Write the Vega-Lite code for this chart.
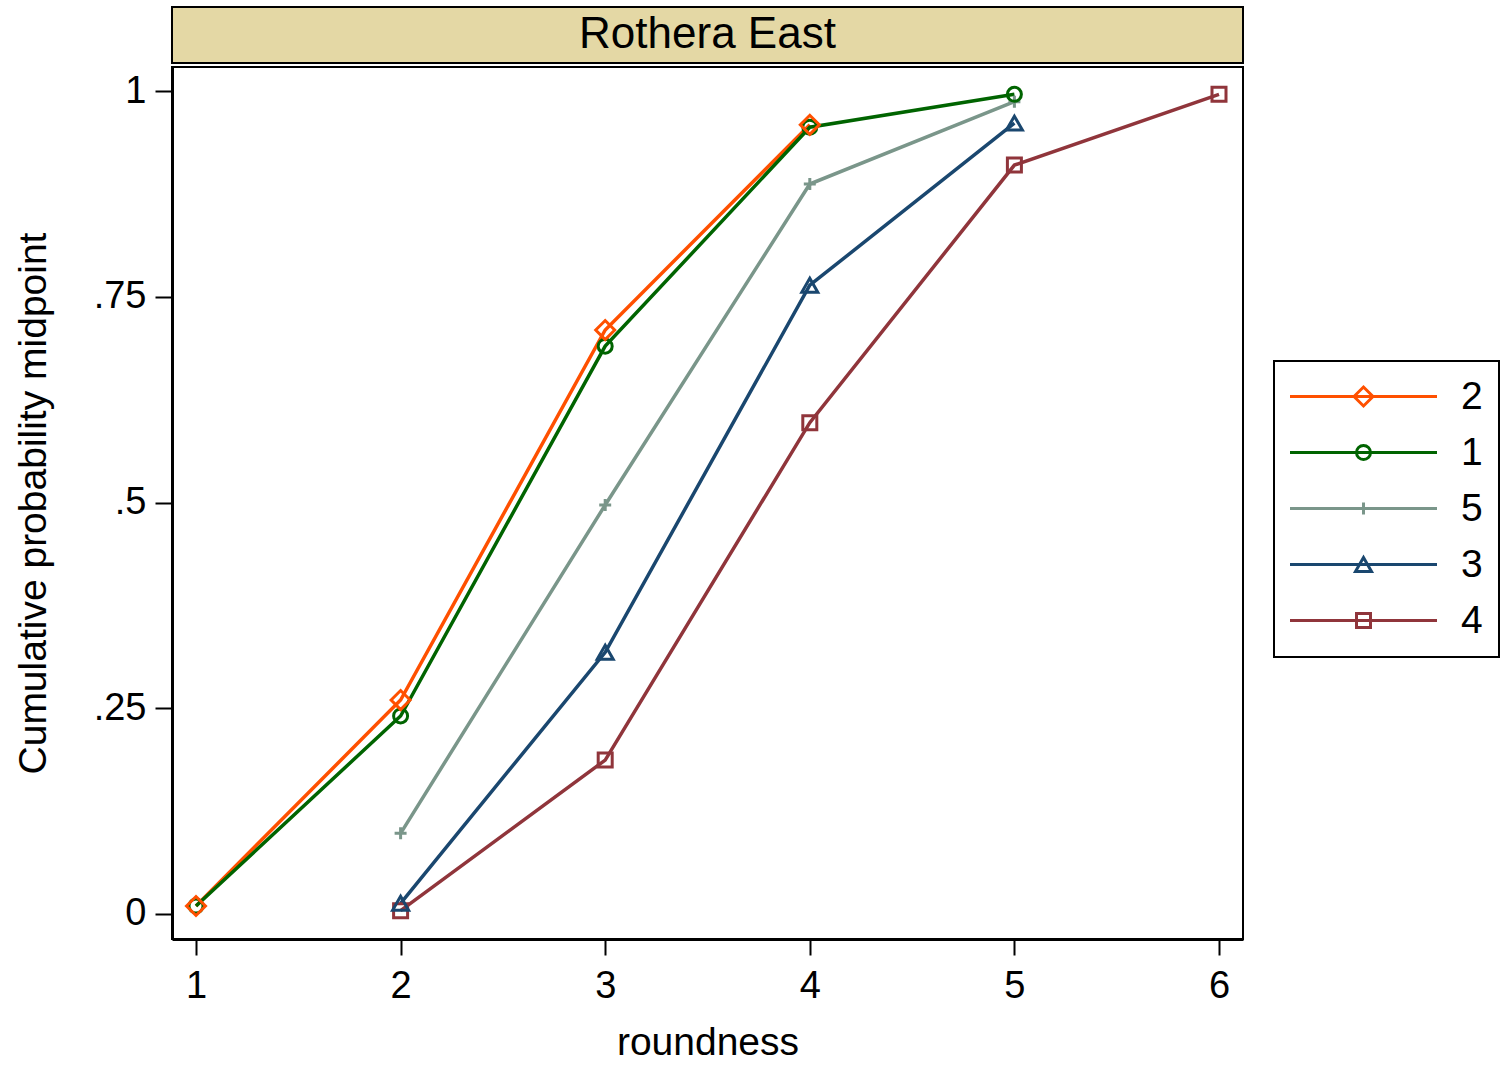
{
  "$schema": "https://vega.github.io/schema/vega-lite/v6.json",
  "padding": {"left": 13, "top": 6, "right": 0, "bottom": 0},
  "background": "white",
  "spacing": 2,
  "config": {
    "font": "Liberation Sans",
    "axis": {
      "grid": false,
      "domainColor": "black",
      "domainWidth": 3,
      "tickColor": "black",
      "tickWidth": 2,
      "labelColor": "black",
      "titleColor": "black",
      "labelFont": "Liberation Sans",
      "titleFont": "Liberation Sans",
      "titleFontWeight": "normal"
    }
  },
  "vconcat": [
    {
      "width": 1071,
      "height": 56,
      "view": {"fill": "#e4d8a5", "stroke": "black", "strokeWidth": 2},
      "data": {"values": [{"strip": "Rothera East"}]},
      "mark": {"type": "text", "fontSize": 44, "font": "Liberation Sans", "color": "black", "baseline": "middle", "align": "center"},
      "encoding": {"text": {"field": "strip", "type": "nominal"}}
    },
    {
      "width": 1071,
      "height": 872,
      "view": {"stroke": "black", "strokeWidth": 2, "fill": "white"},
      "data": {
        "values": [
          {"series": "2", "roundness": 1, "p": 0.0097},
          {"series": "2", "roundness": 2, "p": 0.26},
          {"series": "2", "roundness": 3, "p": 0.7096},
          {"series": "2", "roundness": 4, "p": 0.959},
          {"series": "1", "roundness": 1, "p": 0.0097},
          {"series": "1", "roundness": 2, "p": 0.2406},
          {"series": "1", "roundness": 3, "p": 0.69},
          {"series": "1", "roundness": 4, "p": 0.956},
          {"series": "1", "roundness": 5, "p": 0.996},
          {"series": "5", "roundness": 2, "p": 0.098},
          {"series": "5", "roundness": 3, "p": 0.497},
          {"series": "5", "roundness": 4, "p": 0.887},
          {"series": "5", "roundness": 5, "p": 0.987},
          {"series": "3", "roundness": 2, "p": 0.013},
          {"series": "3", "roundness": 3, "p": 0.318},
          {"series": "3", "roundness": 4, "p": 0.764},
          {"series": "3", "roundness": 5, "p": 0.961},
          {"series": "4", "roundness": 2, "p": 0.004},
          {"series": "4", "roundness": 3, "p": 0.187},
          {"series": "4", "roundness": 4, "p": 0.597},
          {"series": "4", "roundness": 5, "p": 0.91},
          {"series": "4", "roundness": 6, "p": 0.996}
        ]
      },
      "encoding": {
        "x": {
          "field": "roundness",
          "type": "quantitative",
          "scale": {"domain": [0.8827, 6.1173], "nice": false, "zero": false},
          "axis": {
            "values": [1, 2, 3, 4, 5, 6],
            "format": "d",
            "title": "roundness",
            "tickSize": 16,
            "labelFontSize": 38,
            "titleFontSize": 39,
            "labelPadding": 12,
            "titlePadding": 18
          }
        },
        "y": {
          "field": "p",
          "type": "quantitative",
          "scale": {"domain": [-0.0304, 1.0292], "nice": false, "zero": false},
          "axis": {
            "values": [0, 0.25, 0.5, 0.75, 1],
            "labelExpr": "replace(format(datum.value, '~g'), /^0\\./, '.')",
            "title": "Cumulative probability midpoint",
            "tickSize": 17,
            "labelFontSize": 38,
            "titleFontSize": 39,
            "labelPadding": 9,
            "titlePadding": 40
          }
        }
      },
      "layer": [
        {
          "mark": {"type": "line", "strokeWidth": 3.5},
          "encoding": {
            "color": {
              "field": "series",
              "type": "nominal",
              "scale": {
                "domain": ["2", "1", "5", "3", "4"],
                "range": ["#ff5000", "#006400", "#7a968a", "#1a476f", "#90353b"]
              },
              "legend": {
                "title": null,
                "orient": "none",
                "legendX": 1102,
                "legendY": 354,
                "direction": "vertical",
                "strokeColor": "black",
                "fillColor": "white",
                "padding": 16,
                "rowPadding": 16,
                "symbolSize": 400,
                "symbolOffset": 54,
                "symbolStrokeWidth": 3,
                "symbolFillColor": "transparent",
                "symbolType": {"expr": "datum.value === '2' ? 'M-7.35,0H7.35M-0.95,0L0,-0.95L0.95,0L0,0.95Z' : datum.value === '1' ? 'M-7.35,0H7.35M0.7,0A0.7,0.7,0,1,1,-0.7,0A0.7,0.7,0,1,1,0.7,0Z' : datum.value === '5' ? 'M-7.35,0H7.35M0,-0.6V0.6' : datum.value === '3' ? 'M-7.35,0H7.35M0,-0.69L0.8,0.69L-0.8,0.69Z' : 'M-7.35,0H7.35M-0.7,-0.7H0.7V0.7H-0.7Z'"},
                "labelFontSize": 39,
                "labelFont": "Liberation Sans",
                "labelColor": "black",
                "labelOffset": 78,
                "encode": {
                  "legend": {"update": {"strokeWidth": {"value": 2}}}
                }
              }
            }
          }
        },
        {
          "transform": [{"filter": "datum.series === '4'"}],
          "mark": {"type": "point", "filled": false, "size": 361, "strokeWidth": 3, "opacity": 1, "shape": "M-0.737,-0.737H0.737V0.737H-0.737Z"},
          "encoding": {"color": {"field": "series", "type": "nominal", "legend": null}}
        },
        {
          "transform": [{"filter": "datum.series === '3'"}],
          "mark": {"type": "point", "filled": false, "size": 361, "strokeWidth": 3, "opacity": 1, "shape": "M0,-0.73L0.842,0.73L-0.842,0.73Z"},
          "encoding": {"color": {"field": "series", "type": "nominal", "legend": null}}
        },
        {
          "transform": [{"filter": "datum.series === '5'"}],
          "mark": {"type": "point", "filled": false, "size": 361, "strokeWidth": 3, "opacity": 1, "shape": "M-0.63,0H0.63M0,-0.63V0.63"},
          "encoding": {"color": {"field": "series", "type": "nominal", "legend": null}}
        },
        {
          "transform": [{"filter": "datum.series === '1'"}],
          "mark": {"type": "point", "filled": false, "size": 361, "strokeWidth": 3, "opacity": 1, "shape": "M0.737,0A0.737,0.737,0,1,1,-0.737,0A0.737,0.737,0,1,1,0.737,0Z"},
          "encoding": {"color": {"field": "series", "type": "nominal", "legend": null}}
        },
        {
          "transform": [{"filter": "datum.series === '2'"}],
          "mark": {"type": "point", "filled": false, "size": 361, "strokeWidth": 3, "opacity": 1, "shape": "M-1,0L0,-1L1,0L0,1Z"},
          "encoding": {"color": {"field": "series", "type": "nominal", "legend": null}}
        }
      ]
    }
  ]
}
